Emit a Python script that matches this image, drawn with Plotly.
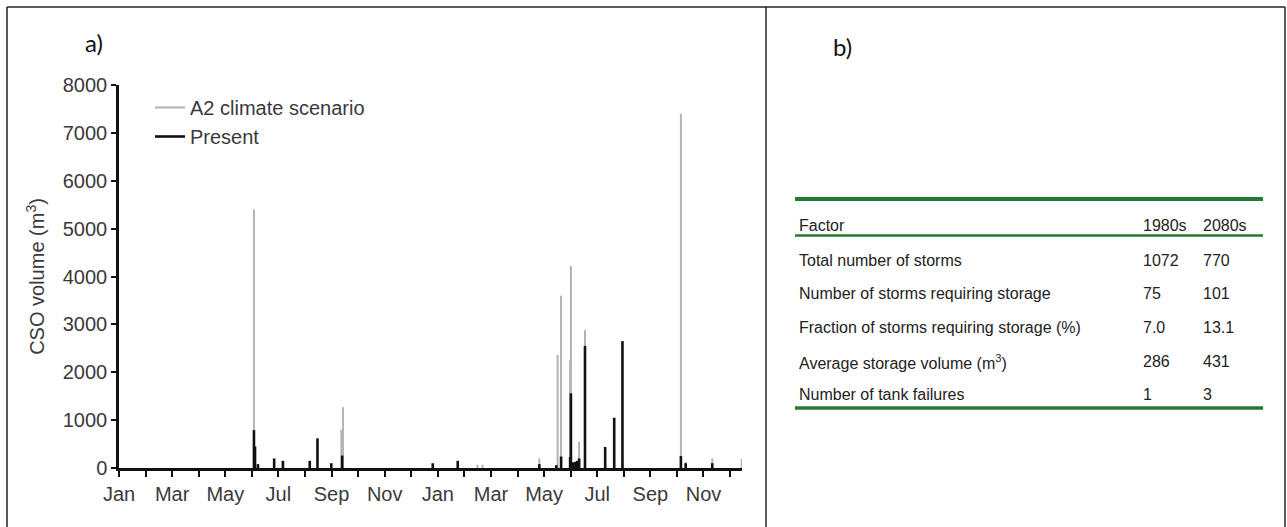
import plotly.graph_objects as go

# ---------------- data ----------------
month_labels = ["Jan", "Mar", "May", "Jul", "Sep", "Nov",
                "Jan", "Mar", "May", "Jul", "Sep", "Nov"]
month_label_pos = [0, 2, 4, 6, 8, 10, 12, 14, 16, 18, 20, 22]  # month index over two years

y_ticks = [0, 1000, 2000, 3000, 4000, 5000, 6000, 7000, 8000]

# A2 climate scenario spikes (month index, CSO volume m3)
a2_month = [5.08, 8.37, 8.43, 13.49, 13.68, 15.82, 16.51, 16.64, 16.98, 17.01,
            17.32, 17.54, 18.95, 21.15, 21.33, 22.33, 23.44]
a2_volume = [5400, 800, 1270, 70, 70, 200, 2360, 3600, 2250, 4220,
             550, 2880, 170, 7400, 130, 200, 200]

# Present spikes
present_month = [5.08, 5.12, 5.23, 5.84, 6.17, 7.18, 7.47, 7.99, 8.40, 11.81,
                 12.75, 15.82, 16.46, 16.64, 16.98, 17.01, 17.10, 17.18, 17.25,
                 17.32, 17.54, 18.30, 18.64, 18.95, 21.15, 21.33, 22.33]
present_volume = [790, 450, 80, 200, 150, 150, 620, 100, 260, 100,
                  150, 80, 60, 240, 230, 1560, 120, 130, 150,
                  200, 2550, 440, 1050, 2650, 250, 100, 100]

# Table b)
table_header = ["Factor", "1980s", "2080s"]
table_factor = ["Total number of storms",
                "Number of storms requiring storage",
                "Fraction of storms requiring storage (%)",
                "Average storage volume (m<sup>3</sup>)",
                "Number of tank failures"]
table_1980s = ["1072", "75", "7.0", "286", "1"]
table_2080s = ["770", "101", "13.1", "431", "3"]

# ---------------- layout helpers ----------------
W, H = 1287, 527
PL, PR, PT, PB = 119, 742, 85, 468  # plot area in pixels


def px(xpix):
    return (xpix - PL) / (PR - PL)


def py(ypix):
    return (PB - ypix) / (PB - PT)


def spikes(xs, ys):
    X, Y = [], []
    for x, y in zip(xs, ys):
        X += [x, x, None]
        Y += [0, y, None]
    return X, Y


fig = go.Figure()
gx, gy = spikes(a2_month, a2_volume)
fig.add_trace(go.Scatter(x=gx, y=gy, mode="lines", name="A2 climate scenario",
                         line=dict(color="#b3b3b3", width=2), hoverinfo="skip"))
bx, by = spikes(present_month, present_volume)
fig.add_trace(go.Scatter(x=bx, y=by, mode="lines", name="Present",
                         line=dict(color="#111111", width=2.6), hoverinfo="skip"))

axis_font = dict(family="Liberation Sans, Arial, sans-serif", size=20, color="#3a3a3a")

fig.update_layout(
    width=W, height=H,
    margin=dict(l=PL, r=W - PR, t=PT, b=H - PB, pad=0),
    paper_bgcolor="white", plot_bgcolor="white",
    font=axis_font,
    showlegend=True,
    legend=dict(x=px(150), y=py(88), xanchor="left", yanchor="top",
                bgcolor="rgba(0,0,0,0)", font=axis_font, tracegroupgap=0,
                itemwidth=30),
    xaxis=dict(range=[0, 23.45], tickmode="array", tickvals=month_label_pos,
               ticktext=month_labels, ticks="outside", ticklen=6, tickwidth=2,
               tickcolor="#111", showline=True, linecolor="#111", linewidth=2.5,
               showgrid=False, zeroline=False, tickfont=axis_font,
               minor=dict(tickmode="linear", tick0=0, dtick=1, ticks="outside",
                          ticklen=6, tickwidth=2, tickcolor="#111", showgrid=False)),
    yaxis=dict(range=[0, 8000], tickmode="array", tickvals=y_ticks,
               ticks="outside", ticklen=5, tickwidth=2, tickcolor="#111",
               showline=True, linecolor="#111", linewidth=2.5,
               showgrid=False, zeroline=False, tickfont=axis_font,
               title=dict(text="CSO volume (m<sup>3</sup>)", font=axis_font,
                          standoff=13)),
)

shapes = []
frame = dict(color="#222222", width=1.5)
# outer frame and divider
shapes.append(dict(type="line", xref="paper", yref="paper", x0=px(7), x1=px(1285),
                   y0=py(7), y1=py(7), line=frame))
shapes.append(dict(type="line", xref="paper", yref="paper", x0=px(7), x1=px(7),
                   y0=py(7), y1=py(530), line=frame))
shapes.append(dict(type="line", xref="paper", yref="paper", x0=px(766), x1=px(766),
                   y0=py(7), y1=py(530), line=frame))
shapes.append(dict(type="line", xref="paper", yref="paper", x0=px(1285), x1=px(1285),
                   y0=py(7), y1=py(530), line=frame))

green = "#247a30"
shapes.append(dict(type="line", xref="paper", yref="paper", x0=px(795), x1=px(1263),
                   y0=py(199), y1=py(199), line=dict(color=green, width=4)))
shapes.append(dict(type="line", xref="paper", yref="paper", x0=px(795), x1=px(1263),
                   y0=py(235.5), y1=py(235.5), line=dict(color=green, width=2.5)))
shapes.append(dict(type="line", xref="paper", yref="paper", x0=px(795), x1=px(1263),
                   y0=py(408), y1=py(408), line=dict(color=green, width=3.5)))
fig.update_layout(shapes=shapes)

ann = []
label_font = dict(family="Lato, Calibri, sans-serif", size=24, color="#111")
ann.append(dict(text="a)", x=px(94), y=py(42), xref="paper", yref="paper",
                showarrow=False, xanchor="center", yanchor="middle", font=label_font))
ann.append(dict(text="b)", x=px(842), y=py(46), xref="paper", yref="paper",
                showarrow=False, xanchor="center", yanchor="middle", font=label_font))

tfont = dict(family="Liberation Sans, Arial, sans-serif", size=16, color="#222")
col_x = [797, 1141, 1201]
for cx, t in zip(col_x, table_header):
    ann.append(dict(text=t, x=px(cx), y=py(225), xref="paper", yref="paper",
                    showarrow=False, xanchor="left", yanchor="middle", font=tfont))
row_y = [260, 293.5, 327.5, 361.5, 394.5]
for ry, f, a, b in zip(row_y, table_factor, table_1980s, table_2080s):
    for cx, t in zip(col_x, [f, a, b]):
        ann.append(dict(text=t, x=px(cx), y=py(ry), xref="paper", yref="paper",
                        showarrow=False, xanchor="left", yanchor="middle", font=tfont))
fig.update_layout(annotations=ann)

fig.write_html("out.html", config={"displayModeBar": False},
               post_script="document.body.style.margin='0px';document.body.style.padding='0px';")
